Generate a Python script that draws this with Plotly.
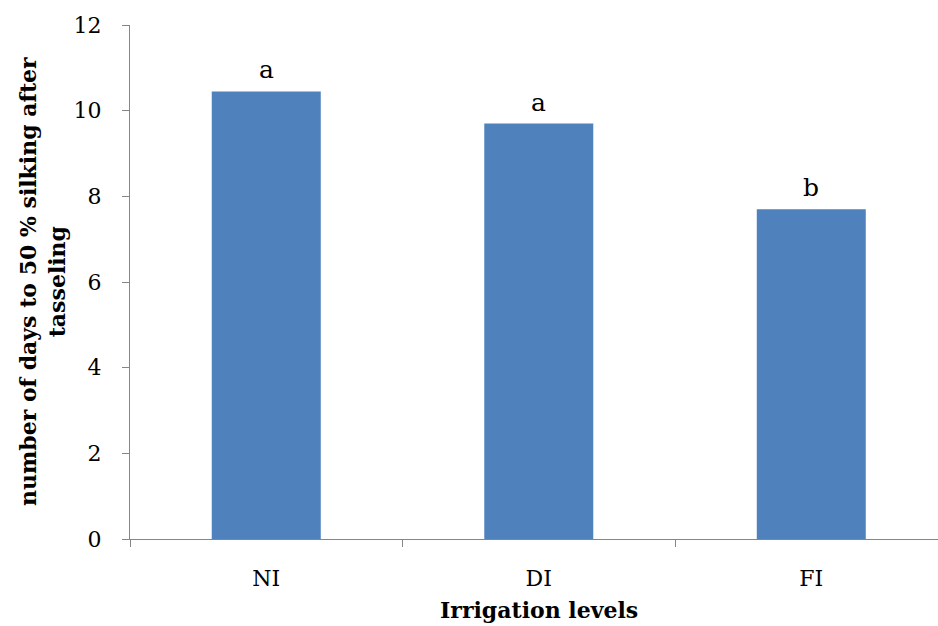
import plotly.graph_objects as go

categories = ["NI", "DI", "FI"]
days = [10.45, 9.7, 7.7]
letters = ["a", "a", "b"]
y_ticks = [0, 2, 4, 6, 8, 10, 12]

FONT = "DejaVu Serif"
AXIS_COLOR = "#868686"

fig = go.Figure()
fig.add_trace(go.Bar(
    x=categories, y=days, width=0.4,
    marker=dict(color="#4F81BD", line=dict(width=0)),
    showlegend=False,
))

annotations = []
for c, v, t in zip(categories, days, letters):
    annotations.append(dict(x=c, y=v, text=t, showarrow=False, xref="x", yref="y",
                            yanchor="bottom", yshift=5,
                            font=dict(family=FONT, size=25, color="black")))

annotations.append(dict(x="DI", y=0, xref="x", yref="paper", yanchor="middle", yshift=-71,
                        text="<b>Irrigation levels</b>", showarrow=False,
                        font=dict(family=FONT, size=22, color="black")))
annotations.append(dict(x=0, y=0.5, xref="paper", yref="paper", xanchor="center", yanchor="middle",
                        xshift=-88, textangle=-90,
                        text="<b>number of days to 50 % silking after<br>tasseling</b>",
                        showarrow=False,
                        font=dict(family=FONT, size=22, color="black")))

fig.update_layout(
    width=938, height=626,
    margin=dict(l=130, r=0, t=25, b=87),
    paper_bgcolor="white", plot_bgcolor="white",
    annotations=annotations,
    xaxis=dict(
        type="category", range=[-0.5, 2.465],
        tickson="boundaries", ticks="outside", ticklen=7, tickcolor=AXIS_COLOR, tickwidth=1,
        showline=True, linecolor=AXIS_COLOR, linewidth=1, showgrid=False,
        tickfont=dict(family=FONT, size=22, color="black"),
        ticklabelstandoff=20,
    ),
    yaxis=dict(
        range=[0, 12], tickvals=y_ticks, ticks="outside", ticklen=7, tickcolor=AXIS_COLOR, tickwidth=1,
        showline=True, linecolor=AXIS_COLOR, linewidth=1, showgrid=False, zeroline=False,
        tickfont=dict(family=FONT, size=22, color="black"),
        ticklabelstandoff=16,
    ),
)

fig.write_html("out.html", config={"displayModeBar": False, "staticPlot": True},
               post_script="document.body.style.margin='0';document.body.style.padding='0';")
